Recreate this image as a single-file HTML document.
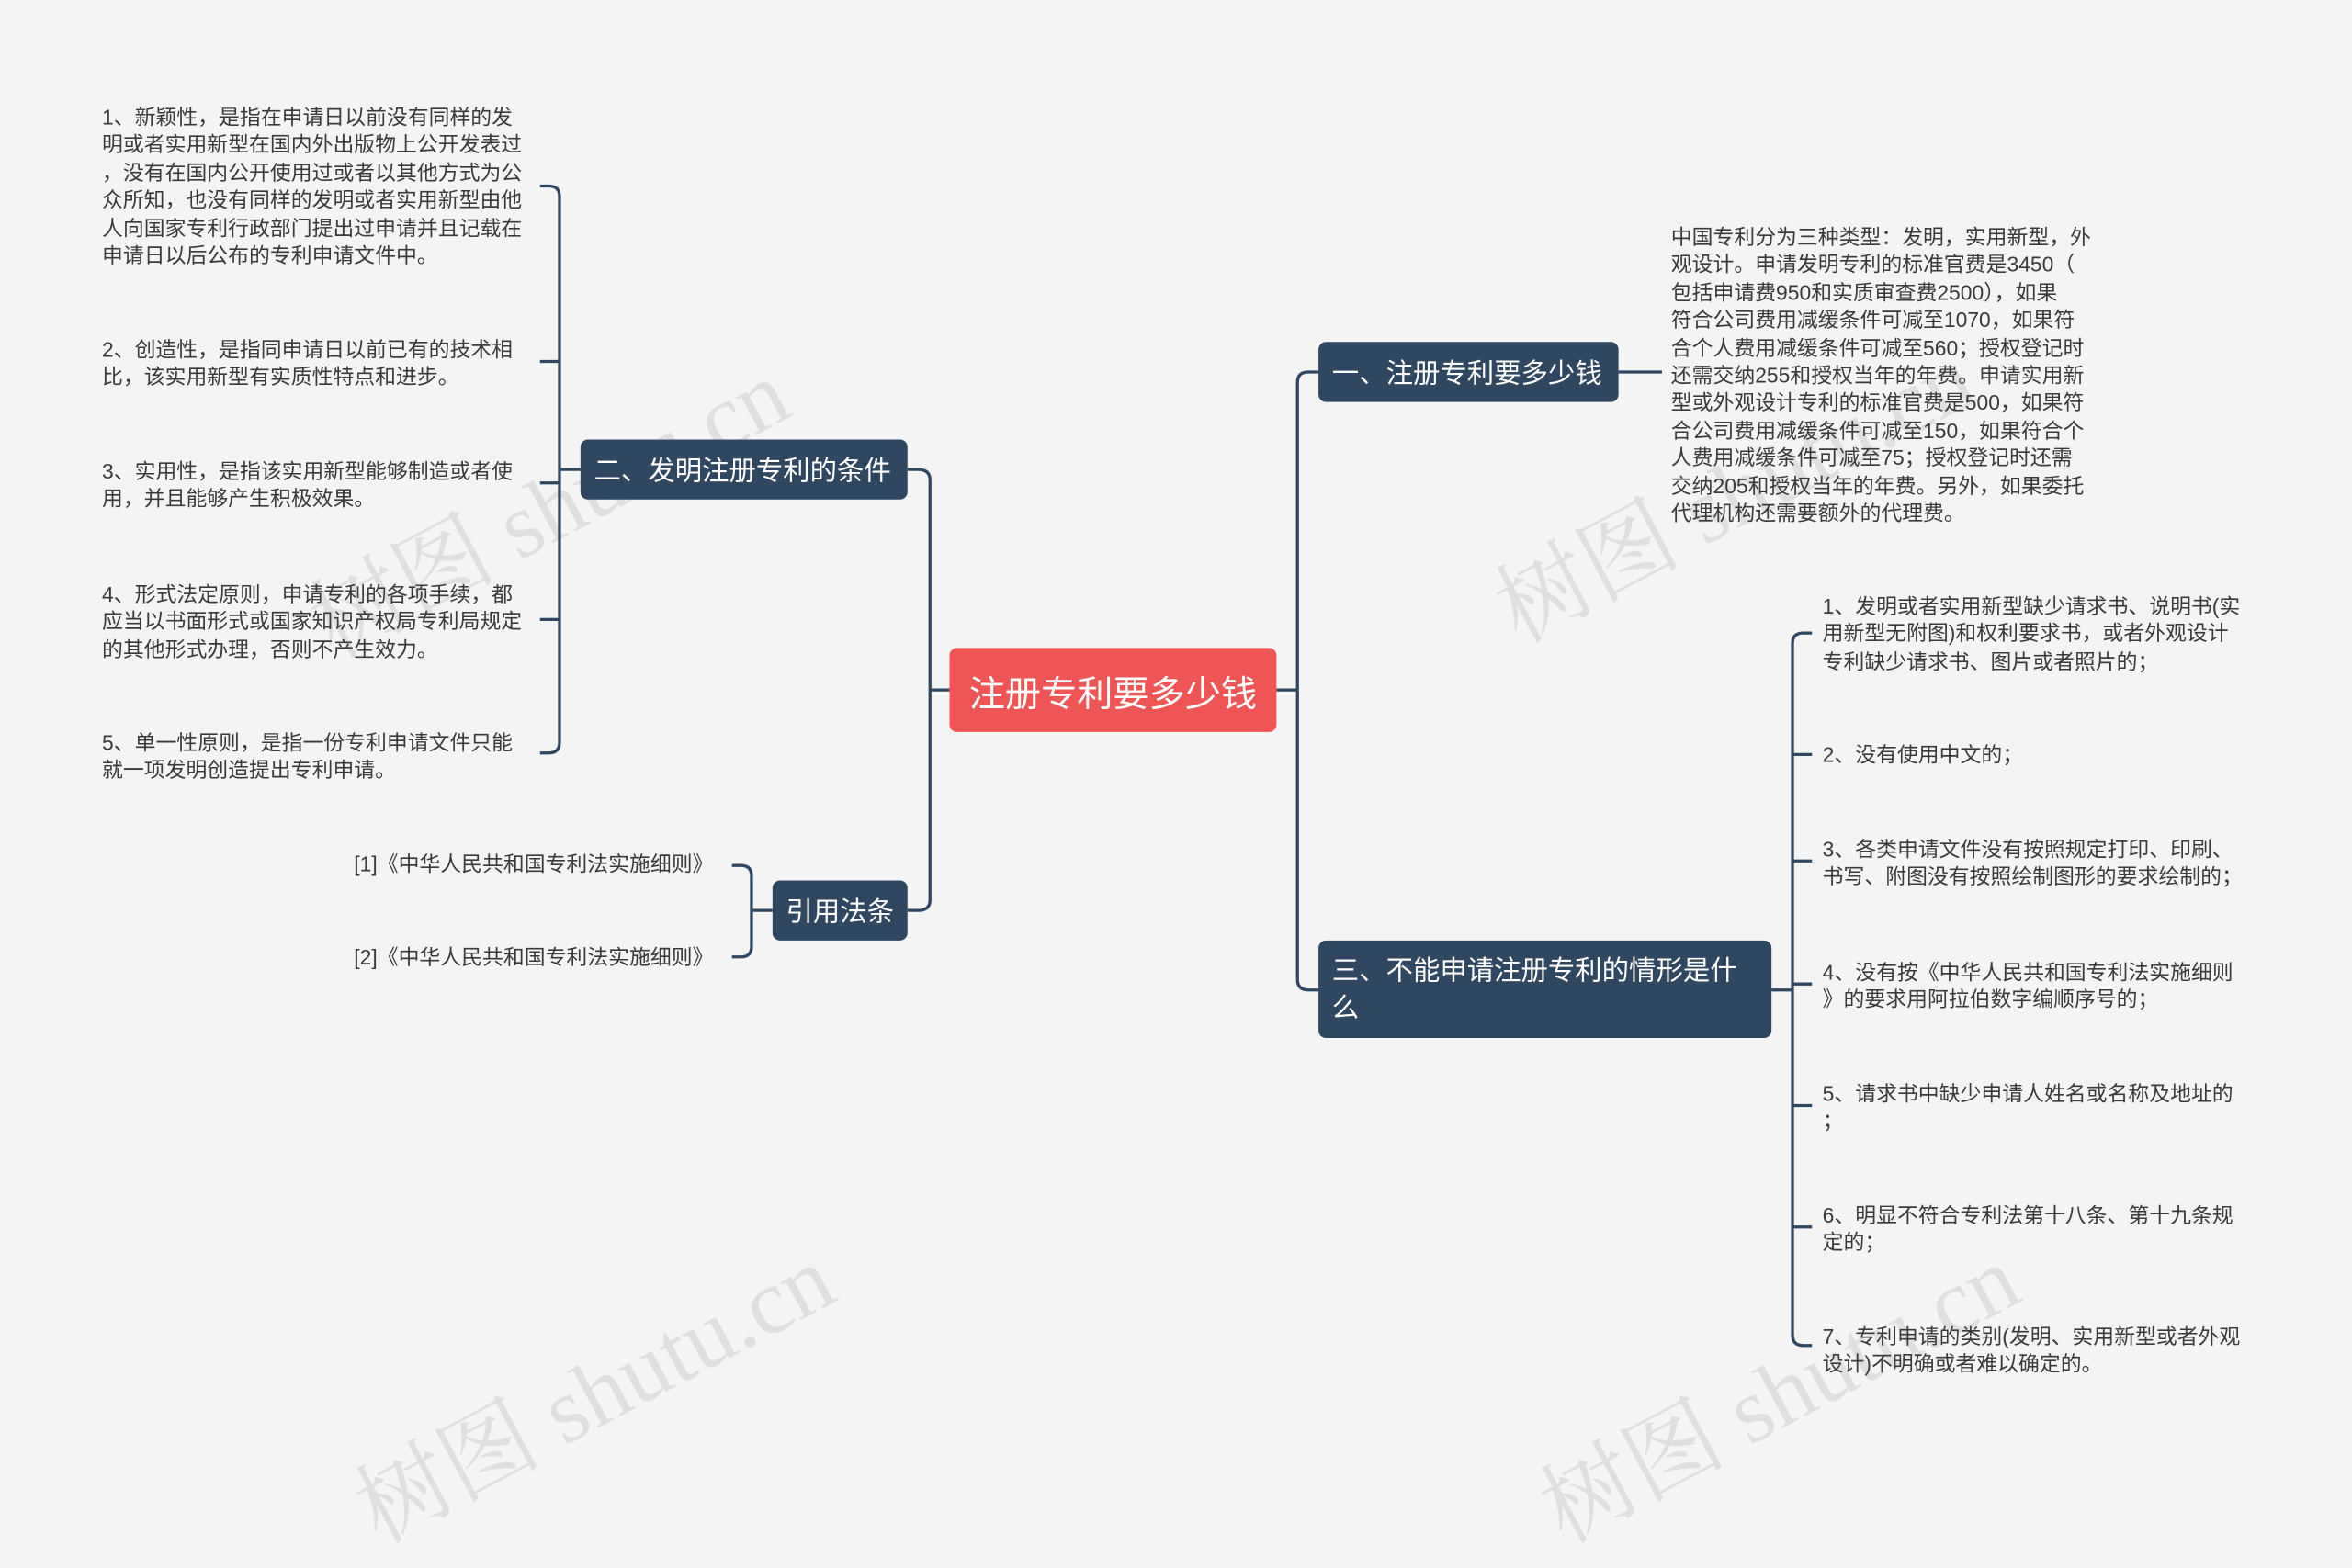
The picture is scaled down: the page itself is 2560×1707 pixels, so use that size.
<!DOCTYPE html>
<html><head><meta charset="utf-8"><style>
html,body{margin:0;padding:0;background:#f4f4f5;overflow:hidden;width:2560px;height:1610px}
#c{position:absolute;left:0;top:0;width:1568px;height:986px;transform:scale(1.63265,1.6329);transform-origin:0 0;font-family:"Liberation Sans","Noto Sans CJK SC",sans-serif}
.t{position:absolute;font-size:14px;line-height:18.4px;color:#3a3a3a;white-space:nowrap}
.n{position:absolute;background:#2f4760;color:#fff;border-radius:5px;font-size:18px;box-sizing:border-box;padding:0 9px;display:flex;align-items:center;white-space:nowrap}
.wm{position:absolute;font-family:"Liberation Serif","Noto Serif CJK SC",serif;font-size:62px;color:rgba(0,0,0,0.08);transform:rotate(-28deg);white-space:nowrap}
</style></head><body><div id="c">
<div class="wm" style="left:190px;top:290px">树图 shutu.cn</div>
<div class="wm" style="left:980px;top:280px">树图 shutu.cn</div>
<div class="wm" style="left:220px;top:880px">树图 shutu.cn</div>
<div class="wm" style="left:1010px;top:880px">树图 shutu.cn</div>
<svg width="1568" height="986" style="position:absolute;left:0;top:0" fill="none" stroke="#2f4760" stroke-width="2">
<path d="M633 460 H620 M620 320 V600 M620 320 Q620 313 612 313 H605 M620 600 Q620 607 612 607 H605"/>
<path d="M851 460 H865 M865 255 V653 M865 255 Q865 248 872 248 H879 M865 653 Q865 660 872 660 H879"/>
<path d="M387 313 H373 M373 131 V495 M373 131 Q373 124 366 124 H360 M373 495 Q373 502 366 502 H360 M360 241 H373 M360 322 H373 M360 413 H373"/>
<path d="M515 607 H501 M501 584 V631 M501 584 Q501 577 494 577 H488 M501 631 Q501 638 494 638 H488"/>
<path d="M1079 248 H1108"/>
<path d="M1181 660 H1195 M1195 429 V890 M1195 429 Q1195 422 1202 422 H1208 M1195 890 Q1195 897 1202 897 H1208 M1195 503 H1208 M1195 574 H1208 M1195 656 H1208 M1195 737 H1208 M1195 818 H1208"/>
</svg>
<div class="n" style="left:633px;top:432px;width:218px;height:56px;background:#ef5555;font-size:24px;justify-content:center">注册专利要多少钱</div>
<div class="n" style="left:387px;top:293px;width:218px;height:40px">二、发明注册专利的条件</div>
<div class="n" style="left:515px;top:587px;width:90px;height:40px">引用法条</div>
<div class="n" style="left:879px;top:228px;width:200px;height:40px">一、注册专利要多少钱</div>
<div class="n" style="left:879px;top:627px;width:302px;height:65px;line-height:25px;white-space:normal">三、不能申请注册专利的情形是什么</div>
<div class="t" style="left:68px;top:69px">1、新颖性，是指在申请日以前没有同样的发<br>明或者实用新型在国内外出版物上公开发表过<br>，没有在国内公开使用过或者以其他方式为公<br>众所知，也没有同样的发明或者实用新型由他<br>人向国家专利行政部门提出过申请并且记载在<br>申请日以后公布的专利申请文件中。</div>
<div class="t" style="left:68px;top:224px">2、创造性，是指同申请日以前已有的技术相<br>比，该实用新型有实质性特点和进步。</div>
<div class="t" style="left:68px;top:305px">3、实用性，是指该实用新型能够制造或者使<br>用，并且能够产生积极效果。</div>
<div class="t" style="left:68px;top:387px">4、形式法定原则，申请专利的各项手续，都<br>应当以书面形式或国家知识产权局专利局规定<br>的其他形式办理，否则不产生效力。</div>
<div class="t" style="left:68px;top:486px">5、单一性原则，是指一份专利申请文件只能<br>就一项发明创造提出专利申请。</div>
<div class="t" style="left:236px;top:567px">[1]《中华人民共和国专利法实施细则》</div>
<div class="t" style="left:236px;top:629px">[2]《中华人民共和国专利法实施细则》</div>
<div class="t" style="left:1114px;top:149px">中国专利分为三种类型：发明，实用新型，外<br>观设计。申请发明专利的标准官费是3450（<br>包括申请费950和实质审查费2500），如果<br>符合公司费用减缓条件可减至1070，如果符<br>合个人费用减缓条件可减至560；授权登记时<br>还需交纳255和授权当年的年费。申请实用新<br>型或外观设计专利的标准官费是500，如果符<br>合公司费用减缓条件可减至150，如果符合个<br>人费用减缓条件可减至75；授权登记时还需<br>交纳205和授权当年的年费。另外，如果委托<br>代理机构还需要额外的代理费。</div>
<div class="t" style="left:1215px;top:395px">1、发明或者实用新型缺少请求书、说明书(实<br>用新型无附图)和权利要求书，或者外观设计<br>专利缺少请求书、图片或者照片的；</div>
<div class="t" style="left:1215px;top:494px">2、没有使用中文的；</div>
<div class="t" style="left:1215px;top:557px">3、各类申请文件没有按照规定打印、印刷、<br>书写、附图没有按照绘制图形的要求绘制的；</div>
<div class="t" style="left:1215px;top:639px">4、没有按《中华人民共和国专利法实施细则<br>》的要求用阿拉伯数字编顺序号的；</div>
<div class="t" style="left:1215px;top:720px">5、请求书中缺少申请人姓名或名称及地址的<br>；</div>
<div class="t" style="left:1215px;top:801px">6、明显不符合专利法第十八条、第十九条规<br>定的；</div>
<div class="t" style="left:1215px;top:882px">7、专利申请的类别(发明、实用新型或者外观<br>设计)不明确或者难以确定的。</div>
</div></body></html>
